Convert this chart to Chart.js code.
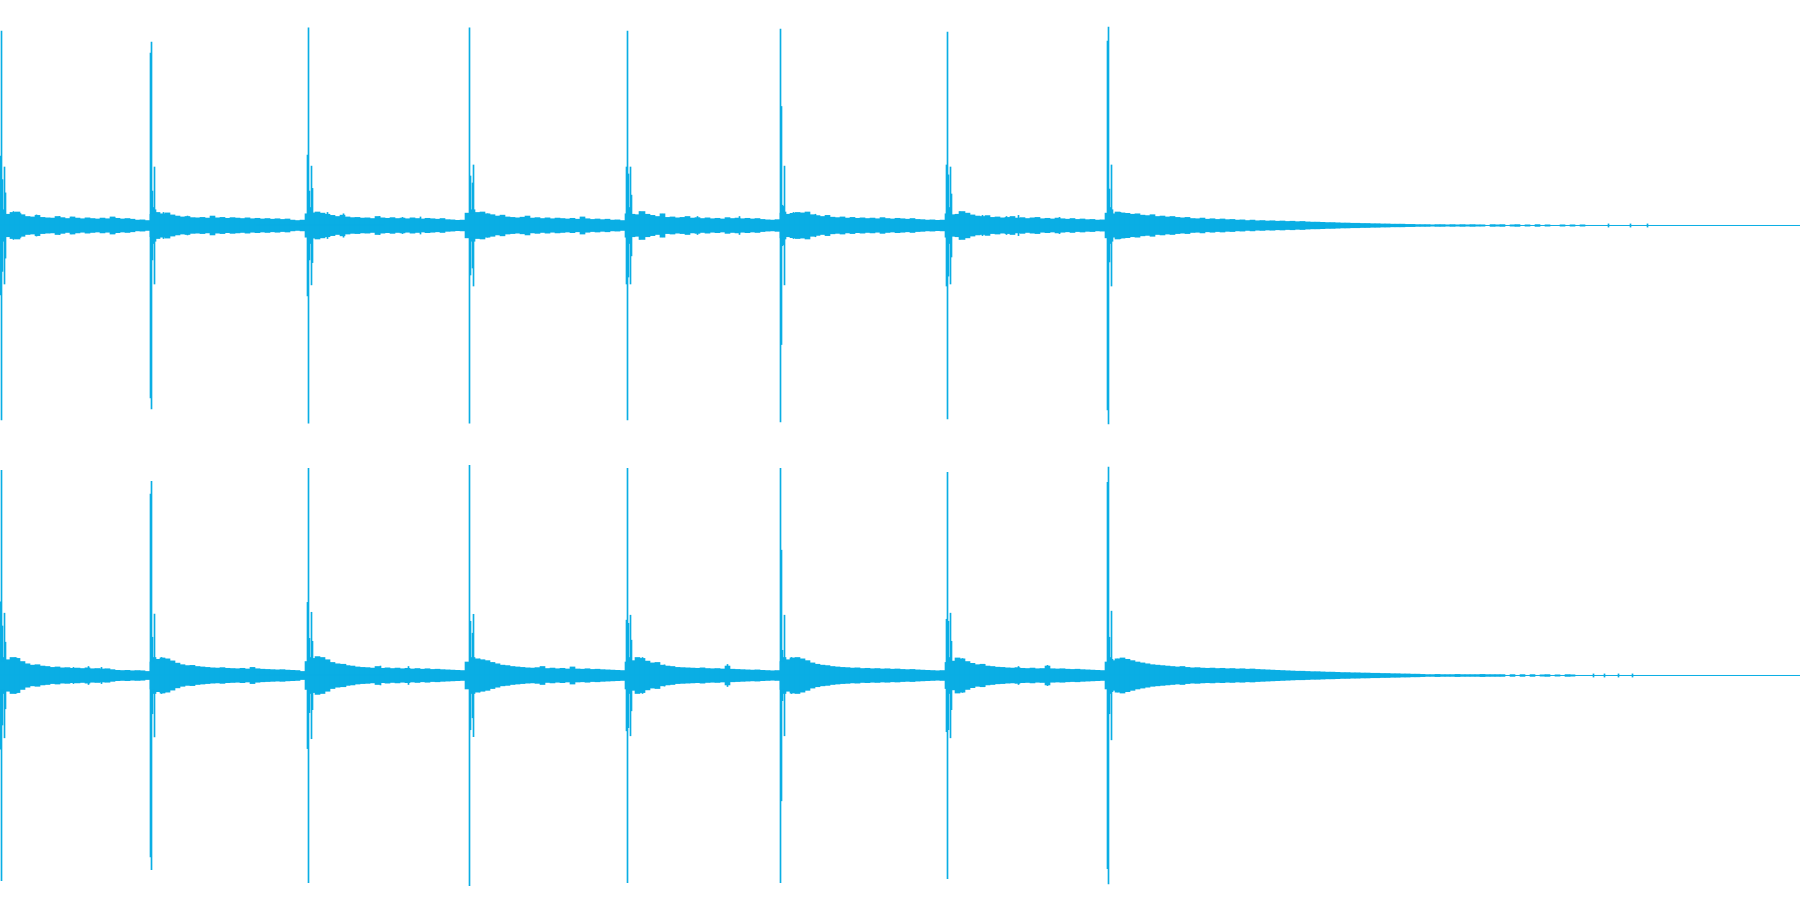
<!DOCTYPE html>
<html>
<head>
<meta charset="utf-8">
<title>Waveform</title>
<script src="https://cdn.jsdelivr.net/npm/chart.js@4.4.1/dist/chart.umd.min.js"></script>
<style>
  html, body { margin: 0; padding: 0; background: #ffffff; overflow: hidden; }
  .channel { width: 1800px; height: 450px; }
  canvas { display: block; }
</style>
</head>
<body>
<div class="channel"><canvas id="leftChannel" width="1800" height="450"></canvas></div>
<div class="channel"><canvas id="rightChannel" width="1800" height="450"></canvas></div>
<script>
/* --- Clip timing (ms) --- */
const DURATION_MS = 18000;
const BIN_MS = 50;

/* --- Noise envelope per 50 ms bin, amplitude in per-mille of full scale --- */
const leftNoise = [
  55,50,58,60,48,40,38,45,36,34,33,40,35,31,38,33,30,34,31,29,33,30,38,32,29,31,28,24,25,22,
  50,58,52,56,47,42,38,40,35,34,36,33,42,34,36,32,35,33,31,34,30,32,29,31,28,30,27,29,24,22,24,
  52,56,60,55,50,45,40,46,38,35,36,33,34,31,40,34,32,35,31,33,30,34,31,29,32,30,28,31,26,25,23,24,
  55,50,58,60,52,48,42,46,38,36,34,37,42,33,35,31,34,30,33,31,29,32,28,38,30,27,29,26,28,24,25,22,
  52,50,48,62,50,45,40,52,36,38,34,36,40,33,35,31,34,30,32,29,35,31,33,30,32,29,31,27,25,24,26,
  55,50,54,58,56,60,48,44,40,45,37,35,38,33,36,32,34,31,33,30,35,31,29,32,30,28,31,27,26,24,25,23,24,
  52,48,50,62,55,47,42,40,44,36,38,34,36,40,33,35,31,34,36,30,32,29,33,30,28,31,27,29,26,27,24,25,
  55,52,60,56,54,50,52,46,44,48,40,42,38,40,36,
  34,36,31,30,33,28,30,27,29,26,27,
  24,25,22,24,21,22,20,21,19,20,18,19,17,18,16,15,
  15,14,13,13,12,11,11,10,10,9,9,
  8,8,7,7,6,6,6,5,5,
  4,4,4,3,4,4,3,4,3,4,3,4,3,
  3,0,4,3,4,0,3,4,0,3,0,4,0,3,0,0,3,0,3,0,3
];

const rightNoise = [
  60,70,80,76,62,52,46,48,42,40,36,38,34,35,32,33,31,34,30,31,29,30,26,23,22,23,21,22,21,18,
  60,72,78,74,65,55,48,44,45,40,38,36,34,33,35,32,31,30,32,29,36,30,28,27,26,25,26,24,23,22,18,
  62,76,84,80,70,58,52,50,44,42,38,36,35,33,40,32,34,31,33,30,32,29,31,28,30,27,28,26,25,24,23,22,
  60,68,74,70,66,58,52,46,44,40,38,36,34,33,35,40,31,33,30,32,29,38,29,28,30,27,28,26,25,24,23,22,
  60,66,80,76,64,56,58,46,42,40,36,35,34,33,32,34,31,30,31,29,42,28,27,26,25,24,25,23,22,21,22,
  62,70,78,80,74,66,56,50,46,44,40,38,36,35,33,34,31,32,30,31,29,30,28,29,27,26,27,25,24,23,22,21,22,
  58,64,78,74,62,54,48,50,42,40,37,36,34,33,35,32,31,33,30,31,42,30,29,30,28,27,28,26,25,24,23,22,
  60,66,74,78,72,66,60,56,52,48,46,44,42,40,38,40,36,34,35,33,32,33,31,32,30,31,29,30,28,29,
  27,26,25,24,23,22,21,20,19,19,18,17,17,16,15,15,14,13,13,12,12,11,11,10,10,9,9,8,8,7,7,6,6,5,
  4,4,5,4,4,4,5,4,4,4,4,5,4,4,4,4,
  0,4,0,4,0,4,0,3,4,0,3,0,4,3
];

/* --- Transient clicks: time (ms) and peak (per-mille) --- */
const leftClickTimes = [
  5,15,25,35,45,55,
  1505,1515,1525,1535,1545,1555,
  3075,3085,3095,3105,3115,3125,
  4695,4705,4715,4725,4735,4745,
  6265,6275,6285,6295,6305,6315,
  7805,7815,7825,7835,7845,7855,
  9465,9475,9485,9495,9505,9515,
  11075,11085,11095,11105,11115,11125,
  16085,16305,16475
];
const leftClickPeaks = [
  309,864,204,70,260,145,
  766,815,153,80,260,70,
  313,878,153,80,264,165,
  878,220,70,189,269,70,
  260,864,229,80,260,135,
  873,529,90,85,264,60,
  269,860,225,80,260,140,
  820,882,162,80,269,70,
  7,7,7
];

const rightClickTimes = [
  5,15,25,35,45,55,
  1505,1515,1525,1535,1545,1555,
  3075,3085,3095,3105,3115,3125,
  4695,4705,4715,4725,4735,4745,
  6265,6275,6285,6295,6305,6315,
  7805,7815,7825,7835,7845,7855,
  9465,9475,9485,9495,9505,9515,
  11075,11085,11095,11105,11115,11125,
  15935,16045,16185,16325
];
const rightClickPeaks = [
  327,912,220,80,277,148,
  806,863,170,80,273,80,
  325,921,165,80,281,152,
  934,241,80,188,272,80,
  246,921,232,80,268,157,
  921,557,112,80,268,80,
  250,903,241,80,277,152,
  859,926,170,80,286,72,
  7,7,7,7
];

/* --- Single noise samples that stick out of the floor: time (ms), peak (per-mille) --- */
const leftSpikeTimes = [
  135,155,205,365,595,715,1115,1145,
  1635,1675,1875,3275,3435,3795,4025,4205,
  4825,4875,4985,6395,6625,6975,7395,
  7935,8025,8155,9595,9635,9825,10065,10185,10595,
  11205,11245,11385
];
const leftSpikeLevels = [
  62,52,53,47,40,37,34,36,
  58,52,42,58,52,40,36,38,
  58,52,41,62,50,40,40,
  58,52,50,62,50,45,40,45,36,
  58,52,45
];

const rightSpikeTimes = [
  115,155,165,205,305,385,735,885,1015,
  1615,1645,1685,1725,3185,3225,3235,3375,3455,3805,4085,
  4795,4835,4925,6375,6425,6435,6565,6645,7275,
  7915,7955,7995,8175,9575,9625,9695,9845,10185,10475,
  11175,11225,11275,11375
];
const rightSpikeLevels = [
  71,80,78,55,44,44,36,40,36,
  80,73,68,53,73,75,70,47,50,42,40,
  73,68,56,71,80,70,47,47,49,
  80,70,64,47,73,75,50,49,40,45,
  73,72,68,50
];

const WAVE_COLOR = '#0aaee4';

function toBars(times, levels) {
  return times.map((t, i) => ({ x: t, y: [-levels[i], levels[i]] }));
}

function makeChannel(canvasId, noise, clickTimes, clickPeaks, spikeTimes, spikeLevels) {
  const envelope = noise
    .map((a, i) => ({ x: i * BIN_MS + BIN_MS / 2, y: [-a, a] }))
    .filter(d => d.y[1] > 0);
  const thin = toBars(clickTimes, clickPeaks).concat(toBars(spikeTimes, spikeLevels));

  return new Chart(document.getElementById(canvasId), {
    type: 'bar',
    data: {
      datasets: [
        {
          type: 'line',
          data: [{ x: 0, y: 0 }, { x: DURATION_MS, y: 0 }],
          borderColor: WAVE_COLOR,
          borderWidth: 1,
          pointRadius: 0
        },
        { data: envelope, backgroundColor: WAVE_COLOR, barThickness: 5, grouped: false },
        { data: thin, backgroundColor: WAVE_COLOR, barThickness: 1, grouped: false }
      ]
    },
    options: {
      responsive: false,
      animation: false,
      layout: { padding: 0 },
      plugins: { legend: { display: false }, tooltip: { enabled: false } },
      scales: {
        x: { type: 'linear', min: 0, max: DURATION_MS, display: false, offset: false },
        // zero sits on the centre of pixel row 225
        y: { min: -997.8, max: 1002.2, display: false }
      }
    }
  });
}

makeChannel('leftChannel', leftNoise, leftClickTimes, leftClickPeaks, leftSpikeTimes, leftSpikeLevels);
makeChannel('rightChannel', rightNoise, rightClickTimes, rightClickPeaks, rightSpikeTimes, rightSpikeLevels);
</script>
</body>
</html>
